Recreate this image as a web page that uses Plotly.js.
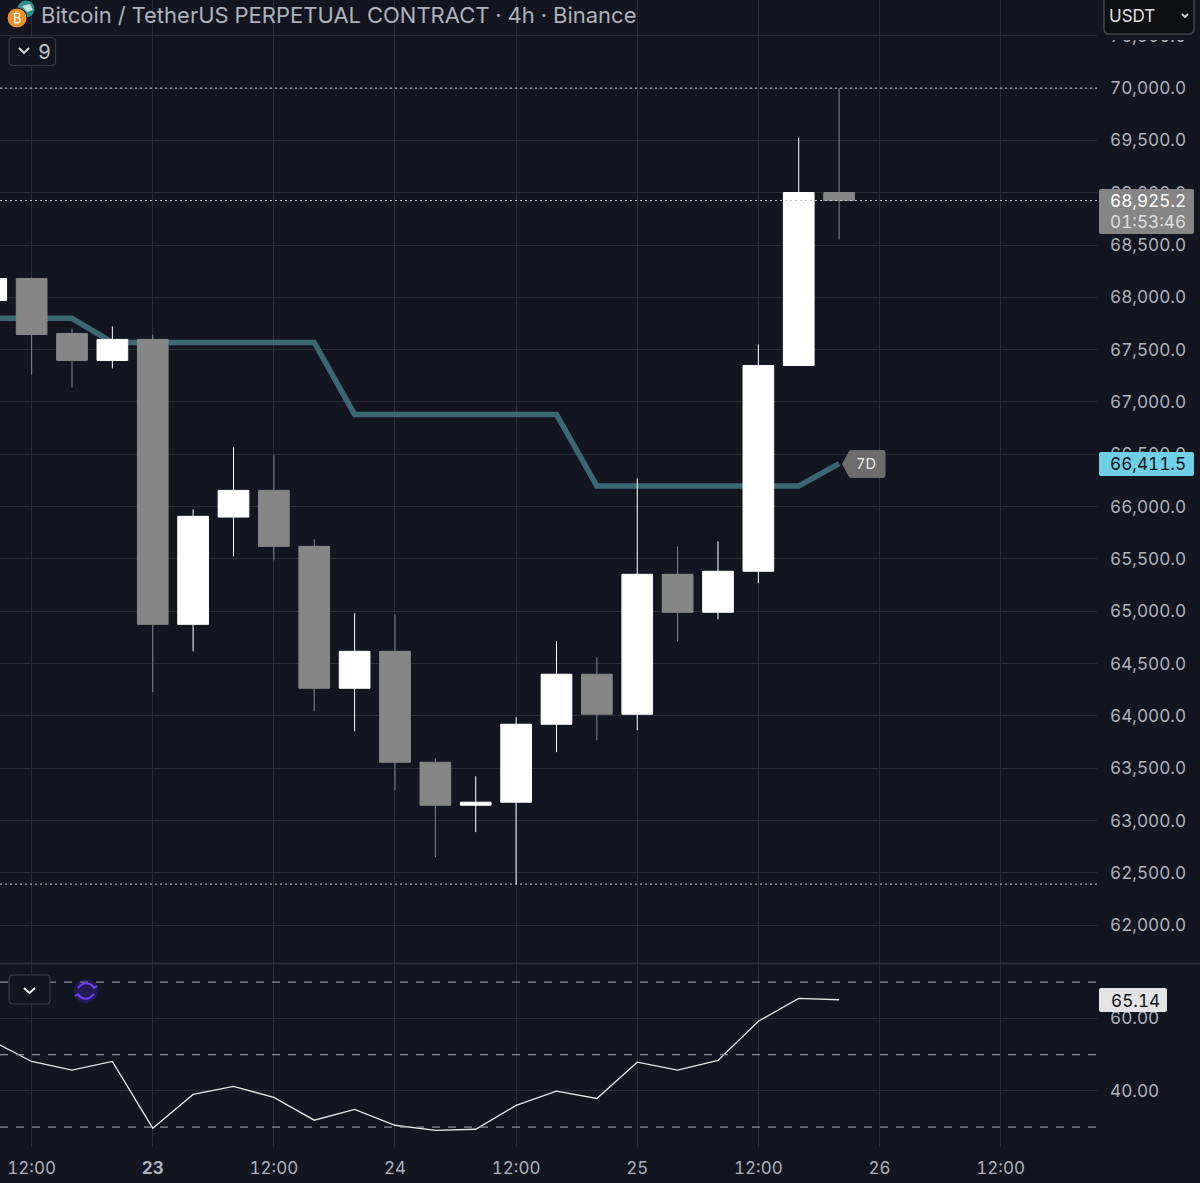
<!DOCTYPE html>
<html><head><meta charset="utf-8">
<script src="https://cdn.plot.ly/plotly-3.0.1.min.js"></script>
<style>html,body{margin:0;padding:0;background:#131621}#c{width:1200px;height:1183px}svg text{font-feature-settings:"tnum" 1;font-variant-numeric:tabular-nums}</style>
</head><body><div id="c"></div>
<script>
const times=["2024-03-22 08:00","2024-03-22 12:00","2024-03-22 16:00","2024-03-22 20:00","2024-03-23 00:00","2024-03-23 04:00","2024-03-23 08:00","2024-03-23 12:00","2024-03-23 16:00","2024-03-23 20:00","2024-03-24 00:00","2024-03-24 04:00","2024-03-24 08:00","2024-03-24 12:00","2024-03-24 16:00","2024-03-24 20:00","2024-03-25 00:00","2024-03-25 04:00","2024-03-25 08:00","2024-03-25 12:00","2024-03-25 16:00","2024-03-25 20:00"];
const opens =[67970,68180,67655,67397,67598,64875,65900,66155,65620,64264,64617,63557,63146,63175,63920,64398,64016,65353,64990,65382,67349,69002];
const highs =[68190,68190,67703,67722,67645,65974,66566,66490,65687,64980,64970,63595,63423,63987,64713,64560,66270,65620,65668,67550,69527,70000];
const lows  =[67900,67263,67139,67321,64226,64617,65525,65487,64044,63853,63290,62650,62889,62392,63653,63767,63863,64713,64923,65267,67349,68553];
const closes=[68180,67645,67397,67598,64875,65907,66155,65620,64264,64617,63557,63146,63175,63920,64398,64016,65353,64990,65382,67349,69002,68925.2];
const ma7d  =[67800,67800,67800,67569,67569,67569,67569,67569,67569,66881,66881,66881,66881,66881,66881,66198,66198,66198,66198,66198,66198,66411.5];
const rsi   =[53.9,48.1,45.7,48.1,29.7,39.0,41.2,38.2,31.9,34.9,30.5,29.1,29.4,36.0,39.9,37.9,47.9,45.7,48.4,59.2,65.5,65.14];
const priceTicks=[62000,62500,63000,63500,64000,64500,65000,65500,66000,66500,67000,67500,68000,68500,69000,69500,70000,70500];
const rsiTicks=[40,60];
const rsiLevels=[70,50,30];
const dottedLevels=[70000,68925.2,62392];
const timeTickVals=["2024-03-22 12:00","2024-03-23 00:00","2024-03-23 12:00","2024-03-24 00:00","2024-03-24 12:00","2024-03-25 00:00","2024-03-25 12:00","2024-03-26 00:00","2024-03-26 12:00"];
const timeTickText=["12:00","<b>23</b>","12:00","24","12:00","25","12:00","26","12:00"];
const W=1200,H=1183;
const BG="#131621",GRID="#2a2d38",TXT="#aeb1ba";
const px=x=>x/W, py=y=>1-y/H;
const plotFont="Inter, Roboto, sans-serif";
const priceRange=[61638,70842];
function rr(x0,y0,x1,y1,r){const X=px,Y=py;return `M${X(x0+r)},${Y(y0)}L${X(x1-r)},${Y(y0)}Q${X(x1)},${Y(y0)} ${X(x1)},${Y(y0+r)}L${X(x1)},${Y(y1-r)}Q${X(x1)},${Y(y1)} ${X(x1-r)},${Y(y1)}L${X(x0+r)},${Y(y1)}Q${X(x0)},${Y(y1)} ${X(x0)},${Y(y1-r)}L${X(x0)},${Y(y0+r)}Q${X(x0)},${Y(y0)} ${X(x0+r)},${Y(y0)}Z`;}
function poly(p){return p.map((q,i)=>(i?"L":"M")+px(q[0])+","+py(q[1])).join("")}
function pshape(path,fill,color,w,extra){return Object.assign({type:"path",xref:"paper",yref:"paper",path:path,fillcolor:fill||"rgba(0,0,0,0)",line:{color:color||"rgba(0,0,0,0)",width:w||0},layer:"above"},extra||{})}
function ptext(text,x,y,size,color,extra){return Object.assign({xref:"paper",yref:"paper",x:px(x),y:py(y),text:text,showarrow:false,font:{family:plotFont,size:size,color:color},xanchor:"left",yanchor:"middle"},extra||{})}

const traces=[
 {type:"scatter",mode:"lines",x:times,y:ma7d,xaxis:"x",yaxis:"y",line:{color:"#3b6773",width:5.5},hoverinfo:"skip",showlegend:false},
 {type:"candlestick",x:times,open:opens,high:highs,low:lows,close:closes,xaxis:"x",yaxis:"y3",
  increasing:{line:{color:"#ffffff",width:1},fillcolor:"#ffffff"},
  decreasing:{line:{color:"#868686",width:1},fillcolor:"#868686"},whiskerwidth:0,showlegend:false},
 {type:"scatter",mode:"lines",x:times,y:rsi,xaxis:"x",yaxis:"y2",line:{color:"#e6e6e6",width:1.3},hoverinfo:"skip",showlegend:false}
];
const shapes=[];
rsiLevels.forEach(v=>shapes.push({type:"line",xref:"paper",yref:"y2",x0:0,x1:1097/W,y0:v,y1:v,line:{color:"#8a8c94",width:1.2,dash:"8px,8px"},layer:"above"}));
dottedLevels.forEach(v=>shapes.push({type:"line",xref:"paper",yref:"y",x0:0,x1:1097/W,y0:v,y1:v,line:{color:"#c4c6cc",width:1,dash:"2px,3px"},layer:"above"}));
// pane divider
shapes.push({type:"line",xref:"paper",yref:"paper",x0:0,x1:1,y0:py(963.5),y1:py(963.5),line:{color:"#2c2f3a",width:1.5},layer:"below"});
// mask over the clipped top price label, then USDT box
shapes.push(pshape(poly([[1098,0],[1200,0],[1200,40],[1098,40]])+"Z",BG));
shapes.push(pshape(rr(1104,-4,1194,34,5),"#0e0f13","#43454e",1.5));
shapes.push(pshape(poly([[1182,14],[1185,17],[1188,14]]),null,"#d8d8d8",1.8));
// last price boxes
shapes.push(pshape(rr(1099,189,1194,234,2),"#858585"));
shapes.push(pshape(rr(1099,452,1194,476,2),"#6fd0e6"));
shapes.push(pshape(rr(1099,988,1167,1012,2),"#e4e4e4"));
// 7D tag
shapes.push(pshape(`M${px(842)},${py(464)}L${px(849)},${py(451)}Q${px(850)},${py(450)} ${px(852)},${py(450)}L${px(883)},${py(450)}Q${px(885.5)},${py(450)} ${px(885.5)},${py(453)}L${px(885.5)},${py(475)}Q${px(885.5)},${py(478)} ${px(883)},${py(478)}L${px(852)},${py(478)}Q${px(850)},${py(478)} ${px(849)},${py(477)}Z`,"#6c6c6c"));
// collapse buttons
shapes.push(pshape(rr(9,37.5,55.5,65.5,4),BG,"#363944",1.2));
shapes.push(pshape(poly([[19,48],[24,53],[29,48]]),null,"#e0e0e0",1.8));
shapes.push(pshape(rr(9,975,50,1004,4),BG,"#3a3d47",1.2));
shapes.push(pshape(poly([[24,988],[29.5,993],[35,988]]),null,"#f0f0f0",2));
// symbol icons
shapes.push({type:"circle",xref:"paper",yref:"paper",x0:px(17.5),x1:px(34.5),y0:py(17.5),y1:py(0.5),fillcolor:"#2f8f8a",line:{width:0},layer:"above"});
shapes.push(pshape(poly([[22,6],[30,4],[33,10],[27,12]])+"Z","#bfe3df"));
shapes.push({type:"circle",xref:"paper",yref:"paper",x0:px(7),x1:px(27),y0:py(28),y1:py(8),fillcolor:"#ee8f2a",line:{color:BG,width:1},layer:"above"});
// purple refresh icon
shapes.push({type:"circle",xref:"paper",yref:"paper",x0:px(74),x1:px(98),y0:py(1003),y1:py(979),fillcolor:"rgba(80,40,220,0.28)",line:{width:0},layer:"above"});
shapes.push(pshape(`M${px(78)},${py(988)}Q${px(85)},${py(979)} ${px(94)},${py(987)}`,null,"#6a3df0",2.2));
shapes.push(pshape(`M${px(94)},${py(994)}Q${px(86)},${py(1003)} ${px(78)},${py(995)}`,null,"#6a3df0",2.2));
shapes.push(pshape(poly([[91,984],[94,988],[97,986]]),null,"#6a3df0",2));
shapes.push(pshape(poly([[75,996],[78,994],[81,998]]),null,"#6a3df0",2));

const annotations=[
 ptext("Bitcoin / TetherUS PERPETUAL CONTRACT · 4h · Binance",39,15.5,22,"#aeb1ba"),
 ptext("₿",17,18.5,13,"#ffffff",{xanchor:"center"}),
 ptext("9",36,51.5,20,"#c0c2c8"),
 ptext("USDT",1107,16,17,"#e0e0e0"),
 ptext("68,925.2",1108,200,17.2,"#ffffff"),
 ptext("01:53:46",1108,221,17.2,"#dddddd"),
 ptext("66,411.5",1108,464,17.2,"#10131c"),
 ptext("65.14",1108.5,1000,17.2,"#10131c"),
 ptext("7D",866,464,14.5,"#e8e8e8",{xanchor:"center"})
];
const layout={
 width:W,height:H,margin:{l:0,r:0,t:0,b:0},paper_bgcolor:BG,plot_bgcolor:BG,showlegend:false,
 boxgap:0.24,boxgroupgap:0,dragmode:false,hovermode:false,
 font:{family:plotFont,color:TXT,size:17},
 xaxis:{type:"date",domain:[0,1097/W],anchor:"y2",
  range:["2024-03-22 08:52","2024-03-26 21:33"],
  tickmode:"array",tickvals:timeTickVals,ticktext:timeTickText,
  gridcolor:GRID,gridwidth:1,showline:false,zeroline:false,ticks:"",rangeslider:{visible:false},
  tickfont:{family:plotFont,size:17,color:TXT},ticklabelstandoff:9},
 yaxis:{domain:[1-963/H,1],side:"right",anchor:"x",range:priceRange,tickmode:"array",tickvals:priceTicks,
  tickformat:",.1f",gridcolor:GRID,gridwidth:1,zeroline:false,showline:false,ticks:"",
  tickfont:{family:plotFont,size:17.2,color:TXT},ticklabelstandoff:12},
 yaxis3:{domain:[1-963/H,1],overlaying:"y",side:"right",anchor:"x",range:priceRange,visible:false,showgrid:false,zeroline:false},
 yaxis2:{domain:[1-1147/H,1-964/H],side:"right",anchor:"x",range:[24.5,75],tickmode:"array",tickvals:rsiTicks,
  tickformat:".2f",gridcolor:GRID,gridwidth:1,zeroline:false,showline:false,ticks:"",
  tickfont:{family:plotFont,size:17.2,color:TXT},ticklabelstandoff:12},
 shapes:shapes,annotations:annotations
};
Plotly.newPlot("c",traces,layout,{displayModeBar:false,staticPlot:true,responsive:false});
</script></body></html>
